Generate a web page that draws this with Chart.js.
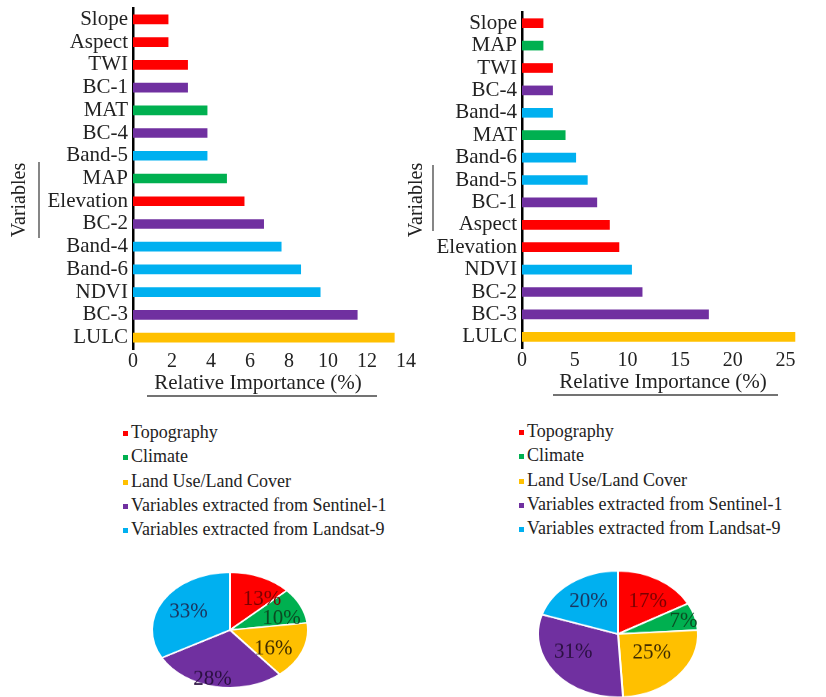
<!DOCTYPE html>
<html>
<head>
<meta charset="utf-8">
<script src="https://cdn.jsdelivr.net/npm/chart.js@4/dist/chart.umd.min.js"></script>
<style>
html,body{margin:0;padding:0;background:#fff;}
body{width:826px;height:697px;overflow:hidden;position:relative;font-family:'Liberation Serif',serif;}
canvas{position:absolute;display:block;}
.leg{position:absolute;font-family:'Liberation Serif',serif;font-size:18px;color:#222;white-space:nowrap;height:24px;line-height:24px;}
.leg i{position:absolute;left:-8px;top:11px;width:5px;height:5px;}
</style>
</head>
<body>
<canvas id="barL" width="420" height="400" style="left:0;top:0;width:420px;height:400px"></canvas>
<canvas id="barR" width="426" height="400" style="left:400px;top:0;width:426px;height:400px"></canvas>
<div id="legL"></div>
<div id="legR"></div>
<canvas id="pieL" width="160" height="160" style="left:150px;top:550px;width:160px;height:160px;transform:scaleY(0.74);transform-origin:50% 50%"></canvas>
<canvas id="pieR" width="164" height="164" style="left:536px;top:552px;width:164px;height:164px;transform:scaleY(0.79);transform-origin:50% 50%"></canvas>
<script>
// ---------- data ----------
const groupNames = ['Topography', 'Climate', 'Land Use/Land Cover', 'Variables extracted from Sentinel-1', 'Variables extracted from Landsat-9'];
const groupColors = ['#ff0000', '#00b050', '#ffc000', '#7030a0', '#00b0f0'];
const groupTextColors = ['#7a0000', '#0b4a22', '#3d2a00', '#2a1040', '#1a3560'];

const leftVariables = ['Slope', 'Aspect', 'TWI', 'BC-1', 'MAT', 'BC-4', 'Band-5', 'MAP', 'Elevation', 'BC-2', 'Band-4', 'Band-6', 'NDVI', 'BC-3', 'LULC'];
const leftImportance = [1.8, 1.8, 2.8, 2.8, 3.8, 3.8, 3.8, 4.8, 5.7, 6.7, 7.6, 8.6, 9.6, 11.5, 13.4];
const leftGroups = [0, 0, 0, 3, 1, 3, 4, 1, 0, 3, 4, 4, 4, 3, 2];
const leftTicks = [0, 2, 4, 6, 8, 10, 12, 14];

const rightVariables = ['Slope', 'MAP', 'TWI', 'BC-4', 'Band-4', 'MAT', 'Band-6', 'Band-5', 'BC-1', 'Aspect', 'Elevation', 'NDVI', 'BC-2', 'BC-3', 'LULC'];
const rightImportance = [2.0, 2.0, 2.9, 2.9, 2.9, 4.1, 5.1, 6.2, 7.1, 8.3, 9.2, 10.4, 11.4, 17.7, 25.9];
const rightGroups = [0, 1, 0, 3, 4, 1, 4, 4, 3, 0, 0, 4, 3, 3, 2];
const rightTicks = [0, 5, 10, 15, 20, 25];

const leftShares = [13, 10, 16, 28, 33];
const rightShares = [17, 7, 25, 31, 20];

const axisTitle = 'Relative Importance (%)';
const yTitle = 'Variables';

// ---------- plugins ----------
const SERIF = "'Liberation Serif', serif";

const decorPlugin = {
  id: 'decor',
  afterDraw(chart, args, o) {
    const ctx = chart.ctx;
    ctx.save();
    ctx.fillStyle = '#222';
    ctx.font = '21px ' + SERIF;
    ctx.textAlign = 'center';
    ctx.textBaseline = 'middle';
    ctx.fillText(o.title, o.titleX, o.titleY);
    ctx.strokeStyle = '#444';
    ctx.lineWidth = 1.3;
    ctx.beginPath();
    ctx.moveTo(o.ulX1, o.ulY); ctx.lineTo(o.ulX2, o.ulY);
    ctx.stroke();
    ctx.beginPath();
    ctx.moveTo(o.vlX, o.vlY1); ctx.lineTo(o.vlX, o.vlY2);
    ctx.stroke();
    ctx.translate(o.vtX, o.vtY);
    ctx.rotate(-Math.PI / 2);
    ctx.font = '20px ' + SERIF;
    ctx.fillText(o.vtitle, 0, 0);
    ctx.restore();
  }
};

const pieLabelPlugin = {
  id: 'pieLabels',
  afterDatasetsDraw(chart, args, o) {
    const ctx = chart.ctx;
    const meta = chart.getDatasetMeta(0);
    ctx.save();
    ctx.font = '21px ' + SERIF;
    ctx.textAlign = 'center';
    ctx.textBaseline = 'middle';
    meta.data.forEach((arc, i) => {
      const p = arc.getProps(['x', 'y', 'startAngle', 'endAngle', 'outerRadius'], true);
      const a = (p.startAngle + p.endAngle) / 2 + (o.shift[i] || 0);
      const r = p.outerRadius * o.radius[i];
      const x = p.x + Math.cos(a) * r;
      const y = p.y + Math.sin(a) * r;
      ctx.save();
      ctx.translate(x, y);
      ctx.scale(1, 1 / o.squash);
      ctx.fillStyle = groupTextColors[i];
      ctx.fillText(chart.data.datasets[0].data[i] + '%', 0, 0);
      ctx.restore();
    });
    ctx.restore();
  }
};

function zeroPad(s) { s.paddingTop = 0; s.paddingBottom = 0; s.paddingLeft = 0; s.paddingRight = 0; }

// ---------- bar charts ----------
function barChart(id, labels, values, groups, ticks, xMax, g) {
  return new Chart(document.getElementById(id), {
    type: 'bar',
    data: {
      labels: labels,
      datasets: [{
        data: values,
        backgroundColor: groups.map(k => groupColors[k]),
        borderWidth: 0,
        barThickness: 9
      }]
    },
    options: {
      indexAxis: 'y',
      responsive: false,
      animation: false,
      devicePixelRatio: 1,
      layout: { padding: { top: g.top, right: g.right, left: 0, bottom: 0 } },
      plugins: { legend: { display: false }, tooltip: { enabled: false }, decor: g.decor },
      scales: {
        x: {
          type: 'linear', min: 0, max: xMax,
          afterBuildTicks: s => { s.ticks = ticks.map(v => ({ value: v })); },
          afterFit: s => { s.height = g.xH; zeroPad(s); },
          grid: { display: false, drawTicks: false },
          border: { display: false },
          ticks: { color: '#222', padding: 1, maxRotation: 0, autoSkip: false, font: { family: SERIF, size: 20 } }
        },
        y: {
          afterFit: s => { s.width = g.yW; zeroPad(s); },
          grid: { display: false, drawTicks: false },
          border: { display: true, color: '#000', width: 2.5 },
          ticks: { color: '#222', padding: 5, autoSkip: false, font: { family: SERIF, size: 21 } }
        }
      }
    },
    plugins: [decorPlugin]
  });
}

barChart('barL', leftVariables, leftImportance, leftGroups, leftTicks, 14, {
  top: 8, right: 14, xH: 51, yW: 133,
  decor: { title: axisTitle, titleX: 258, titleY: 383, ulX1: 147, ulX2: 377, ulY: 396,
           vtitle: yTitle, vtX: 20, vtY: 200, vlX: 39, vlY1: 162, vlY2: 238 }
});
barChart('barR', rightVariables, rightImportance, rightGroups, rightTicks, 26, {
  top: 12, right: 30, xH: 52, yW: 122,
  decor: { title: axisTitle, titleX: 263, titleY: 382, ulX1: 153, ulX2: 378, ulY: 395,
           vtitle: yTitle, vtX: 17, vtY: 200, vlX: 33, vlY1: 165, vlY2: 231 }
});

// ---------- legends ----------
function legend(id, x, y0) {
  const host = document.getElementById(id);
  groupNames.forEach((n, i) => {
    const d = document.createElement('div');
    d.className = 'leg';
    d.style.left = x + 'px';
    d.style.top = (y0 + i * 24.3 - 12) + 'px';
    const m = document.createElement('i');
    m.style.background = groupColors[i];
    d.appendChild(m);
    d.appendChild(document.createTextNode(n));
    host.appendChild(d);
  });
}
legend('legL', 131, 432);
legend('legR', 527, 431);

// ---------- pies ----------
function pieChart(id, shares, o) {
  return new Chart(document.getElementById(id), {
    type: 'pie',
    data: {
      labels: groupNames,
      datasets: [{
        data: shares,
        backgroundColor: groupColors,
        borderColor: '#ffffff',
        borderWidth: 2,
        hoverOffset: 0
      }]
    },
    options: {
      responsive: false,
      animation: false,
      devicePixelRatio: 1,
      layout: { padding: 1 },
      plugins: { legend: { display: false }, tooltip: { enabled: false }, pieLabels: o }
    },
    plugins: [pieLabelPlugin]
  });
}
pieChart('pieL', leftShares, { squash: 0.74, radius: [0.67, 0.69, 0.64, 0.88, 0.62], shift: [0.25, 0.15, 0.15, 0.07, 0] });
pieChart('pieR', rightShares, { squash: 0.79, radius: [0.63, 0.84, 0.52, 0.63, 0.63], shift: [0.1, 0.05, -0.1, 0.18, 0] });
</script>
</body>
</html>
